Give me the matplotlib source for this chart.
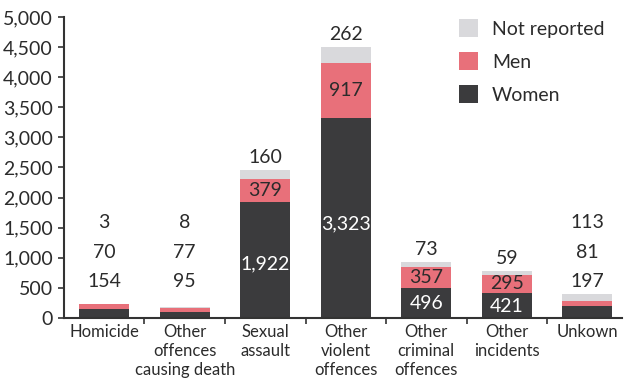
import matplotlib
matplotlib.use("Agg")
import matplotlib.pyplot as plt
from matplotlib.ticker import FuncFormatter, FixedLocator

plt.rcParams["font.family"] = ["Lato", "DejaVu Sans"]

categories = ["Homicide", "Other\noffences\ncausing death", "Sexual\nassault",
              "Other\nviolent\noffences", "Other\ncriminal\noffences",
              "Other\nincidents", "Unkown"]
women = [154, 95, 1922, 3323, 496, 421, 197]
men = [70, 77, 379, 917, 357, 295, 81]
not_reported = [3, 8, 160, 262, 73, 59, 113]
yticks = [0, 500, 1000, 1500, 2000, 2500, 3000, 3500, 4000, 4500, 5000]

# which bars are too short for labels inside segments
small = [True, True, False, False, False, False, True]

c_women = "#3b3b3d"
c_men = "#e8707a"
c_nr = "#d9d9dc"
txt = "#2b2b2b"

fig = plt.figure(figsize=(6.27, 3.84), dpi=100)
ax = fig.add_axes([0.102, 0.172, 0.890, 0.784])

x = list(range(len(categories)))
w = 0.62
ax.bar(x, women, w, color=c_women, label="Women")
ax.bar(x, men, w, bottom=women, color=c_men, label="Men")
base2 = [a + b for a, b in zip(women, men)]
ax.bar(x, not_reported, w, bottom=base2, color=c_nr, label="Not reported")

fs = 14
for i in x:
    top = base2[i] + not_reported[i]
    if small[i]:
        for k, v in enumerate([women[i], men[i], not_reported[i]]):
            ax.text(i, 600 + 490 * k, f"{v:,}", ha="center", va="center",
                    fontsize=fs, color=txt)
    else:
        ax.text(i, women[i] * 0.47, f"{women[i]:,}", ha="center", va="center",
                fontsize=fs, color="white")
        ax.text(i, women[i] + men[i] / 2, f"{men[i]:,}", ha="center",
                va="center", fontsize=fs, color=txt)
        ax.text(i, top + 70, f"{not_reported[i]:,}", ha="center",
                va="bottom", fontsize=fs, color=txt)

ax.set_ylim(0, 5000)
ax.set_xlim(-0.5, 6.43)
ax.yaxis.set_major_locator(FixedLocator(yticks))
ax.yaxis.set_major_formatter(FuncFormatter(lambda v, p: f"{int(v):,}"))
ax.set_xticks(x)
ax.set_xticklabels(categories, fontsize=12, color=txt, linespacing=1.25)
ax.xaxis.set_minor_locator(FixedLocator([i + 0.5 for i in x[:-1]]))
ax.tick_params(axis="x", which="major", length=0, pad=4)
ax.tick_params(axis="x", which="minor", length=4, width=1.2, color="#333333")
ax.tick_params(axis="y", length=4, width=1.2, color="#333333",
               labelsize=fs, labelcolor=txt, pad=4)

for s in ["top", "right"]:
    ax.spines[s].set_visible(False)
for s in ["left", "bottom"]:
    ax.spines[s].set_color("#333333")
    ax.spines[s].set_linewidth(1.5)

handles, labels = ax.get_legend_handles_labels()
ax.legend(handles[::-1], labels[::-1], loc="upper right",
          bbox_to_anchor=(1.0, 1.05), frameon=False, fontsize=fs,
          handlelength=1.0, handleheight=1.0, handletextpad=0.7,
          labelspacing=0.75, labelcolor=txt)

fig.savefig("out.png", dpi=100)
